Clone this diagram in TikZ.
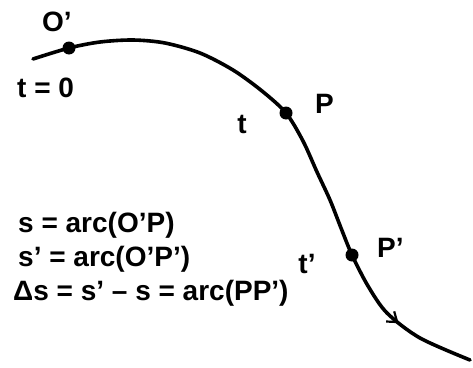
\documentclass[tikz,border=0pt]{standalone}
\usepackage{fontspec}
\setmainfont{Liberation Sans}
\usetikzlibrary{decorations.markings,arrows.meta}

\begin{document}
\begin{tikzpicture}[x=1pt, y=-1pt,
	every node/.style={font=\fontsize{28}{30}\selectfont\bfseries, inner sep=0pt},
	dot/.style={circle, fill, minimum size=13pt},
	curve/.style={line width=3.6pt, line cap=round}]
	\useasboundingbox (0,0) rectangle (473,367);
	% puntos de la curva
	\coordinate (c0) at (33,59);
	\coordinate (cO) at (69,48);
	\coordinate (c1) at (100,42);
	\coordinate (c2) at (133,40);
	\coordinate (c3) at (165,43);
	\coordinate (c4) at (200,53);
	\coordinate (c5) at (233,70);
	\coordinate (c6) at (262,91);
	\coordinate (cP) at (286,113);
	\coordinate (c7) at (303,141);
	\coordinate (c8) at (317,172);
	\coordinate (c9) at (330,200);
	\coordinate (c10) at (341,228);
	\coordinate (cQ) at (352,255);
	\coordinate (c11) at (368,286);
	\coordinate (c12) at (387,313);
	\coordinate (c13) at (420,338);
	\coordinate (c14) at (470,360);

	\draw[curve, postaction={decorate}, decoration={markings,
		mark=at position 0.865 with {\arrow[line width=2.2pt]{Straight Barb[length=9pt, width=13pt]}}}]
		plot[smooth, tension=0.5] coordinates {(c0) (cO) (c1) (c2) (c3) (c4) (c5) (c6) (cP)
			(c7) (c8) (c9) (c10) (cQ) (c11) (c12) (c13) (c14)};

	% puntos
	\node[dot] (O) at (cO) {};
	\node[dot] (P) at (cP) {};
	\node[dot] (Q) at (cQ) {};

	% etiquetas
	\node[anchor=base west] (lO) at (42,31) {O'};
	\node[anchor=base west] (l0) at (17,97) {t = 0};
	\node[anchor=base] (lt) at (242,133) {t};
	\node[anchor=base west] (lP) at (315,113) {P};
	\node[anchor=base] (lt2) at (307,273) {t'};
	\node[anchor=base west] (lQ) at (377,257) {P'};

	% formulas
	\node[anchor=base west] (f1) at (18,232) {s = arc(O'P)};
	\node[anchor=base west] (f2) at (18,266) {s' = arc(O'P')};
	\node[anchor=base west] (f3) at (13,300) {Δs = s' – s = arc(PP')};
\end{tikzpicture}
\end{document}
